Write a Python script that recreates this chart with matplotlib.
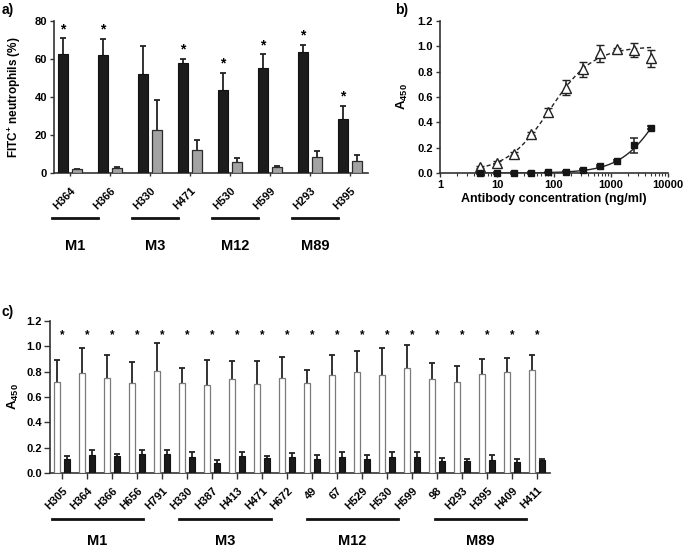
import numpy as np
import matplotlib
matplotlib.use('Agg')
import matplotlib.pyplot as plt

plt.rcParams['font.family'] = ['Liberation Sans', 'DejaVu Sans']
plt.rcParams['font.weight'] = 'bold'
plt.rcParams['mathtext.fontset'] = 'custom'
plt.rcParams['mathtext.rm'] = 'Liberation Sans:bold'
plt.rcParams['mathtext.bf'] = 'Liberation Sans:bold'
plt.rcParams['mathtext.it'] = 'Liberation Sans:bold'

# === PANEL A : FITC+ neutrophils (%) ===
strains_a = ['H364', 'H366', 'H330', 'H471', 'H530', 'H599', 'H293', 'H395']
types_a = ['M1', 'M3', 'M12', 'M89']
black_a = [62.5, 61.9, 52.3, 58.1, 43.9, 55.1, 63.5, 28.6]
black_a_err = [8.4, 8.8, 14.7, 2.1, 8.9, 7.4, 3.9, 6.8]
gray_a = [1.9, 2.5, 22.8, 11.9, 6.0, 3.0, 8.2, 6.5]
gray_a_err = [0.4, 0.8, 15.8, 5.3, 2.1, 0.9, 3.4, 3.0]
star_a = [True, True, False, True, True, True, True, True]

# === PANEL B : dose response ===
conc_b = [5, 10, 20, 40, 80, 160, 320, 640, 1280, 2560, 5120]
tri_b = [0.047, 0.082, 0.153, 0.31, 0.48, 0.674, 0.818, 0.945, 0.98, 0.97, 0.905]
tri_b_err = [0.01, 0.01, 0.01, 0.01, 0.033, 0.06, 0.06, 0.068, 0.01, 0.057, 0.065]
sq_b = [0.0, 0.0, 0.0, 0.0, 0.005, 0.01, 0.026, 0.055, 0.095, 0.218, 0.358]
sq_b_err = [0.004, 0.004, 0.004, 0.004, 0.004, 0.005, 0.006, 0.006, 0.008, 0.057, 0.01]
# 4PL fit parameters (bottom, top, EC50, hill)
fit_tri = (0.005, 1.0, 85.0, 1.15)
fit_sq = (0.0, 1.0, 8280.0, 1.2)

# === PANEL C : A450 per strain ===
strains_c = ['H305', 'H364', 'H366', 'H656', 'H791',
             'H330', 'H387', 'H413', 'H471', 'H672',
             '49', '67', 'H529', 'H530', 'H599',
             '98', 'H293', 'H395', 'H409', 'H411']
types_c = ['M1', 'M3', 'M12', 'M89']
white_c = [0.716, 0.792, 0.753, 0.711, 0.803, 0.708, 0.692, 0.745, 0.705, 0.753,
           0.711, 0.774, 0.795, 0.771, 0.826, 0.739, 0.716, 0.779, 0.80, 0.81]
white_c_top = [0.892, 0.989, 0.929, 0.876, 1.024, 0.832, 0.892, 0.887, 0.887, 0.916,
               0.816, 0.932, 0.966, 0.984, 1.01, 0.871, 0.845, 0.90, 0.908, 0.929]
black_c = [0.11, 0.142, 0.132, 0.153, 0.147, 0.126, 0.079, 0.132, 0.121, 0.126,
           0.11, 0.126, 0.113, 0.126, 0.129, 0.097, 0.092, 0.105, 0.089, 0.103]
black_c_top = [0.137, 0.179, 0.153, 0.184, 0.179, 0.163, 0.10, 0.163, 0.137, 0.155,
               0.139, 0.163, 0.139, 0.168, 0.163, 0.121, 0.113, 0.139, 0.11, 0.113]

DARK = '#222222'
TICK_FS = 8

def logistic4(x, bottom, top, ec50, hill):
    return bottom + (top - bottom) / (1 + (ec50 / x) ** hill)

def style(ax, ticklen=3):
    for s in ['top', 'right']:
        ax.spines[s].set_visible(False)
    for s in ['left', 'bottom']:
        ax.spines[s].set_color('#333333')
        ax.spines[s].set_linewidth(1.2)
    ax.tick_params(direction='out', length=ticklen, width=1, color='#333333',
                   labelsize=TICK_FS, pad=2)
    for lab in ax.get_xticklabels() + ax.get_yticklabels():
        lab.set_fontweight('bold')

def upper_err(ax, x, val, top, cap=4.5):
    ax.vlines(x, val, top, color=DARK, lw=1.3, zorder=2)
    ax.plot(x, top, ls='none', marker='_', ms=cap, mew=1.3, color=DARK, zorder=2)

fig = plt.figure(figsize=(6.85, 5.49), dpi=100)
W, H = 685, 549

def px_axes(left, top, right, bottom):
    return fig.add_axes([left / W, 1 - bottom / H, (right - left) / W, (bottom - top) / H])

ax_a = px_axes(54, 21, 368, 173)
ax_b = px_axes(440, 21, 668, 173)
ax_c = px_axes(50, 321, 550, 473)

# --- a) ---
xa = np.arange(len(strains_a))
ba = np.array(black_a)
ga = np.array(gray_a)
ax_a.bar(xa - 0.185, ba, 0.25, color='#1c1c1c', edgecolor='#111111', lw=0.8, zorder=3)
ax_a.bar(xa + 0.185, ga, 0.25, color='#a3a3a3', edgecolor='#2a2a2a', lw=0.9, zorder=3)
upper_err(ax_a, xa - 0.185, ba, ba + np.array(black_a_err))
upper_err(ax_a, xa + 0.185, ga, ga + np.array(gray_a_err))
for i, s in enumerate(star_a):
    if s:
        ax_a.annotate('*', (xa[i] - 0.185, ba[i] + black_a_err[i]), xytext=(0, 1.5),
                      textcoords='offset points', ha='center', va='bottom', fontsize=10,
                      fontweight='bold')
ax_a.set_xlim(-0.4, 7.45)
ax_a.set_ylim(0, 80)
ax_a.set_yticks([0, 20, 40, 60, 80])
ax_a.set_xticks(xa)
ax_a.set_xticklabels(strains_a, rotation=45, ha='right', rotation_mode='anchor')
style(ax_a)
ax_a.tick_params(axis='x', length=2, pad=7)
ax_a.set_ylabel(r'FITC$^{\mathbf{+}}$ neutrophils (%)', fontsize=8.5, fontweight='bold')
ax_a.yaxis.set_label_coords(-0.1, 0.5)
tr = ax_a.get_xaxis_transform()
for g, name in enumerate(types_a):
    x0 = 2 * g - 0.45
    x1 = 2 * g + 0.7
    ax_a.plot([x0, x1], [-0.296, -0.296], color='#111111', lw=2, transform=tr, clip_on=False)
    ax_a.text((x0 + x1) / 2, -0.48, name, transform=tr, ha='center', va='center',
              fontsize=10.5, fontweight='bold')

# --- b) ---
ax_b.set_xscale('log')
xs = np.logspace(np.log10(conc_b[0]), np.log10(conc_b[-1]), 300)
ax_b.plot(xs, logistic4(xs, *fit_tri), ls=(0, (3, 2)), color=DARK, lw=1.0, zorder=2)
ax_b.plot(xs, logistic4(xs, *fit_sq), ls='-', color=DARK, lw=1.0, zorder=2)
ax_b.errorbar(conc_b, tri_b, yerr=tri_b_err, fmt='^', mfc='white', mec=DARK, mew=1.0,
              ms=6.5, ecolor=DARK, elinewidth=1.1, capsize=3, capthick=1.1, clip_on=False, zorder=3)
ax_b.errorbar(conc_b, sq_b, yerr=sq_b_err, fmt='s', mfc='#151515', mec='#151515',
              ms=5, ecolor=DARK, elinewidth=1.1, capsize=3, capthick=1.1, clip_on=False, zorder=3)
ax_b.set_xlim(1, 10000)
ax_b.set_ylim(0, 1.2)
ax_b.set_yticks(np.arange(0, 1.21, 0.2))
ax_b.set_yticklabels([f'{v:.1f}' for v in np.arange(0, 1.21, 0.2)])
ax_b.set_xticks([1, 10, 100, 1000, 10000])
ax_b.set_xticklabels(['1', '10', '100', '1000', '10000'])
style(ax_b)
ax_b.tick_params(axis='x', which='minor', length=2, width=0.8, color='#333333')
ax_b.set_xlabel('Antibody concentration (ng/ml)', fontsize=9, fontweight='bold', labelpad=2)
ax_b.set_ylabel(r'$\mathbf{A_{450}}$', fontsize=9.5)
ax_b.yaxis.set_label_coords(-0.13, 0.5)

# --- c) ---
xc = np.arange(len(strains_c))
wc = np.array(white_c)
bc = np.array(black_c)
ax_c.bar(xc - 0.2, wc, 0.26, color='white', edgecolor='#7a7a7a', lw=0.9, zorder=3)
ax_c.bar(xc + 0.2, bc, 0.26, color='#1a1a1a', edgecolor='#111111', lw=0.8, zorder=3)
upper_err(ax_c, xc - 0.2, wc, white_c_top, cap=4)
upper_err(ax_c, xc + 0.2, bc, black_c_top, cap=4)
for i in xc:
    ax_c.text(i, 1.09, '*', ha='center', va='center', fontsize=8.5, fontweight='bold')
ax_c.set_xlim(-0.48, 19.52)
ax_c.set_ylim(0, 1.2)
ax_c.set_yticks(np.arange(0, 1.21, 0.2))
ax_c.set_yticklabels([f'{v:.1f}' for v in np.arange(0, 1.21, 0.2)])
ax_c.set_xticks(xc)
ax_c.set_xticklabels(strains_c, rotation=45, ha='right', rotation_mode='anchor')
style(ax_c, ticklen=4)
ax_c.tick_params(axis='x', pad=5)
ax_c.set_ylabel(r'$\mathbf{A_{450}}$', fontsize=9.5)
ax_c.yaxis.set_label_coords(-0.058, 0.5)
tr = ax_c.get_xaxis_transform()
for g, name in enumerate(types_c):
    x0 = 5 * g - 0.4 + 0.1 * g
    x1 = x0 + 3.65
    ax_c.plot([x0, x1], [-0.303, -0.303], color='#111111', lw=2, transform=tr, clip_on=False)
    ax_c.text((x0 + x1) / 2, -0.447, name, transform=tr, ha='center', va='center',
              fontsize=10.5, fontweight='bold')

# panel letters
fig.text(2 / W, 1 - 3 / H, 'a)', ha='left', va='top', fontsize=10, fontweight='bold')
fig.text(395 / W, 1 - 3 / H, 'b)', ha='left', va='top', fontsize=10, fontweight='bold')
fig.text(1 / W, 1 - 305 / H, 'c)', ha='left', va='top', fontsize=10, fontweight='bold')

fig.savefig('out.png', dpi=100)
